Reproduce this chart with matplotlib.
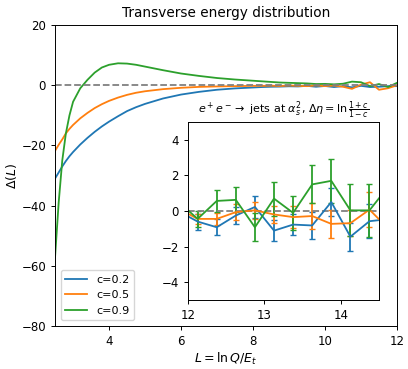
import matplotlib
matplotlib.use("Agg")
import matplotlib.pyplot as plt
import numpy as np

# main panel: Delta(L) vs L for three cone sizes
L_main = [2.4, 2.5, 2.6, 2.7, 2.8, 2.9, 3.0, 3.2, 3.4, 3.6, 3.8, 4.0, 4.25, 4.5, 4.75,
          5.0, 5.5, 6.0, 6.5, 7.0, 7.5, 8.0, 8.25, 8.5, 8.75, 9.0, 9.25, 9.5, 9.75,
          10.0, 10.25, 10.5, 10.75, 11.0, 11.25, 11.5, 11.75, 12.0]
delta_02 = [-33.5, -31, -29, -27, -25.2, -23.6, -22.2, -19.7, -17.5, -15.5, -13.7, -12.1,
            -10.3, -8.6, -7.3, -6.2, -4.4, -3.1, -2.2, -1.5, -1.05, -0.75, -0.6, -0.5,
            -0.45, -0.35, -0.4, -0.2, -0.5, -0.25, -0.6, -0.3, -0.7, -0.2, -0.6, -0.5,
            -0.3, -0.3]
delta_05 = [-24.5, -21.8, -19.8, -18, -16, -14.5, -13.2, -11, -9.2, -7.6, -6.3, -5.2,
            -4.1, -3.2, -2.5, -2.0, -1.3, -0.85, -0.55, -0.4, -0.3, -0.2, -0.2, -0.15,
            -0.25, -0.1, -0.2, -0.3, -0.05, -0.3, -0.1, -0.5, -1.2, 0.2, 1.0, -1.5,
            -1.0, 0.0]
delta_09 = [-75, -57, -39, -25, -16, -10, -5.5, -1.0, 1.8, 4.2, 5.9, 6.8, 7.3, 7.2, 6.8,
            6.2, 5.0, 3.9, 3.1, 2.4, 1.9, 1.5, 1.3, 1.1, 0.9, 0.8, 0.7, 0.6, 0.4, 0.45,
            0.3, 0.5, 1.2, 1.0, -0.3, 0.4, -0.6, 0.8]

# inset: binned high-L region with statistical errors
L_bins = [11.875, 12.125, 12.375, 12.625, 12.875, 13.125, 13.375, 13.625, 13.875,
          14.125, 14.375, 14.625]
ins_02 = [-0.01, -0.59, -0.91, -0.25, 0.23, -1.1, -0.76, -0.81, 0.51, -1.44, -0.57, -0.45]
err_02 = [0.4, 0.45, 0.45, 0.5, 0.6, 0.6, 0.6, 0.75, 0.78, 0.78, 0.97, 1.0]
ins_05 = [0.14, -0.44, -0.44, -0.06, 0.04, -0.19, -0.34, -0.28, -0.72, -0.68, 0.08, -1.0]
err_05 = [0.3, 0.3, 0.35, 0.47, 0.47, 0.47, 0.63, 0.75, 0.78, 0.72, 1.0, 1.0]
ins_09 = [0.52, -0.44, 0.57, 0.63, -0.91, 0.7, -0.1, 1.5, 1.7, 0.04, 0.04, 1.4]
err_09 = [0.45, 0.45, 0.6, 0.7, 0.8, 0.95, 0.95, 1.07, 1.24, 1.46, 1.5, 1.5]

labels = ["c=0.2", "c=0.5", "c=0.9"]
colors = ["C0", "C1", "C2"]

# the reference looks like a default figure shrunk down a bit
plt.rcParams["font.size"] = 7.7
plt.rcParams["xtick.labelsize"] = 8.5
plt.rcParams["ytick.labelsize"] = 8.5
plt.rcParams["axes.labelsize"] = 9
plt.rcParams["legend.fontsize"] = 8
plt.rcParams["lines.linewidth"] = 1.3
plt.rcParams["axes.linewidth"] = 0.7
plt.rcParams["xtick.major.width"] = 0.7
plt.rcParams["ytick.major.width"] = 0.7
plt.rcParams["xtick.major.size"] = 3
plt.rcParams["ytick.major.size"] = 3

fig = plt.figure(figsize=(4.08, 3.69), dpi=100)
ax = fig.add_axes([0.135, 0.117, 0.838, 0.815])

for y, lab, col in zip([delta_02, delta_05, delta_09], labels, colors):
    ax.plot(L_main, y, color=col, label=lab)
ax.axhline(0, color="gray", ls="--")
ax.set_xlim(2.5, 12)
ax.set_ylim(-80, 20)
ax.set_xticks([4, 6, 8, 10, 12])
ax.set_yticks([-80, -60, -40, -20, 0, 20])
ax.set_title("Transverse energy distribution", fontsize=9.8)
ax.set_xlabel(r"$L = \ln Q/E_t$", labelpad=2)
ax.set_ylabel(r"$\Delta(L)$", labelpad=2)
ax.legend(loc="lower left")

# inset
axi = fig.add_axes([0.461, 0.187, 0.468, 0.482])
for y, e, col in zip([ins_02, ins_05, ins_09], [err_02, err_05, err_09], colors):
    axi.errorbar(L_bins, y, yerr=e, color=col, capsize=2.5)
axi.axhline(0, color="gray", ls="--")
axi.set_xlim(12, 14.5)
axi.set_ylim(-5, 5)
axi.set_xticks([12, 13, 14])
axi.set_yticks([-4, -2, 0, 2, 4])
axi.set_title(r"$e^+e^- \to$ jets at $\alpha_s^2$, $\Delta\eta = \ln\frac{1+c}{1-c}$",
              fontsize=8)

fig.savefig("out.png", dpi=100)
